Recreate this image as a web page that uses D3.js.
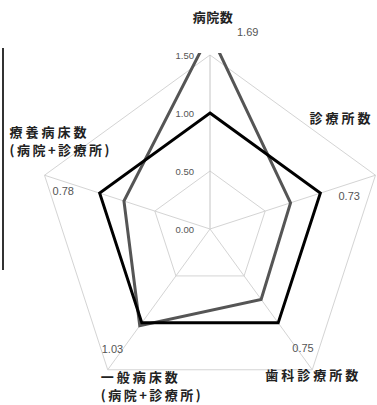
<!DOCTYPE html>
<html>
<head>
<meta charset="utf-8">
<script src="https://cdn.jsdelivr.net/npm/d3@7"></script>
<style>
  html, body { margin: 0; padding: 0; background: #fff; }
  svg { display: block; }
</style>
</head>
<body>
<svg id="chart" width="377" height="405"></svg>
<script>
// categories, clockwise from the top
const categories = ['病院数', '診療所数', '歯科診療所数', '一般病床数|(病院+診療所)', '療養病床数|(病院+診療所)'];
const baseValues = [1.00, 1.00, 1.00, 1.00, 1.00];   // 全国 = 1
const areaValues = [1.69, 0.73, 0.75, 1.03, 0.78];
const valueLabels = ['1.69', '0.73', '0.75', '1.03', '0.78'];
const tickValues = [0, 0.5, 1.0, 1.5];

// label offsets from the outer vertex of each axis
const catLayout = [
  { dx: 3, dy: -33, anchor: 'middle' },
  { dx: -2, dy: -52, anchor: 'end' },
  { dx: -47, dy: 10, anchor: 'start' },
  { dx: -7, dy: 12, anchor: 'start' },
  { dx: -35, dy: -38, anchor: 'start' }
];
const valLayout = [
  { dx: 27, dy: -19 },
  { dx: -37, dy: 25 },
  { dx: -20, dy: -18 },
  { dx: -6, dy: -17 },
  { dx: 8, dy: 20 }
];

const svg = d3.select('#chart');
const cx = 210, cy = 229;

const r = d3.scaleLinear().domain([0, 1.5]).range([0, 174]);
const angle = d3.scaleLinear().domain([0, categories.length]).range([0, 2 * Math.PI]);

function pt(i, v) {
  const a = angle(i);
  return [cx + r(v) * Math.sin(a), cy - r(v) * Math.cos(a)];
}

// left edge of neighbouring frame
svg.append('line')
  .attr('x1', 3).attr('x2', 3).attr('y1', 48).attr('y2', 270)
  .attr('stroke', '#333').attr('stroke-width', 2);

// grid rings
const g = svg.append('g');
tickValues.filter(d => d > 0).forEach(t => {
  g.append('polygon')
    .attr('points', categories.map((c, i) => pt(i, t).join(',')).join(' '))
    .attr('fill', 'none')
    .attr('stroke', '#d4d4d4')
    .attr('stroke-width', 1);
});

// spokes
categories.forEach((c, i) => {
  const p = pt(i, 1.5);
  g.append('line')
    .attr('x1', cx).attr('y1', cy)
    .attr('x2', p[0]).attr('y2', p[1])
    .attr('stroke', i === 0 ? '#c4c4c4' : '#d4d4d4')
    .attr('stroke-width', 1);
});

// tick labels
g.selectAll('.tick')
  .data(tickValues)
  .enter()
  .append('text')
  .attr('x', cx - 16)
  .attr('y', d => cy - r(d) + 3.5)
  .attr('text-anchor', 'end')
  .style('font-family', '"Liberation Sans", Arial, sans-serif')
  .style('font-size', '9.5px')
  .style('fill', '#555')
  .text(d => d.toFixed(2));

// plot clip
svg.append('defs').append('clipPath').attr('id', 'plot')
  .append('rect')
  .attr('x', 0).attr('y', cy - r(1.5) - 2)
  .attr('width', 377).attr('height', 405);

const line = d3.line().curve(d3.curveLinearClosed);

svg.append('path')
  .attr('d', line(areaValues.map((v, i) => pt(i, v))))
  .attr('clip-path', 'url(#plot)')
  .attr('fill', 'none')
  .attr('stroke', '#555')
  .attr('stroke-width', 3)
  .attr('stroke-linejoin', 'miter');

svg.append('path')
  .attr('d', line(baseValues.map((v, i) => pt(i, v))))
  .attr('fill', 'none')
  .attr('stroke', '#000')
  .attr('stroke-width', 3)
  .attr('stroke-linejoin', 'miter');

// value labels
valueLabels.forEach((lbl, i) => {
  const p = pt(i, 1.5);
  svg.append('text')
    .attr('x', p[0] + valLayout[i].dx)
    .attr('y', p[1] + valLayout[i].dy)
    .attr('text-anchor', 'start')
    .style('font-family', '"Liberation Sans", Arial, sans-serif')
    .style('font-size', '11px')
    .style('fill', '#555')
    .text(lbl);
});

// category labels
categories.forEach((c, i) => {
  const p = pt(i, 1.5);
  const t = svg.append('text')
    .attr('text-anchor', catLayout[i].anchor)
    .style('font-family', '"Noto Sans CJK JP", sans-serif')
    .style('font-size', '13px')
    .style('font-weight', '700')
    .style('letter-spacing', i === 0 ? '0.5px' : '3px')
    .style('fill', '#222');
  c.split('|').forEach((part, k) => {
    t.append('tspan')
      .attr('x', p[0] + catLayout[i].dx)
      .attr('y', p[1] + catLayout[i].dy + k * 18)
      .style('letter-spacing', k === 1 ? '2.5px' : null)
      .text(part);
  });
});
</script>
</body>
</html>
